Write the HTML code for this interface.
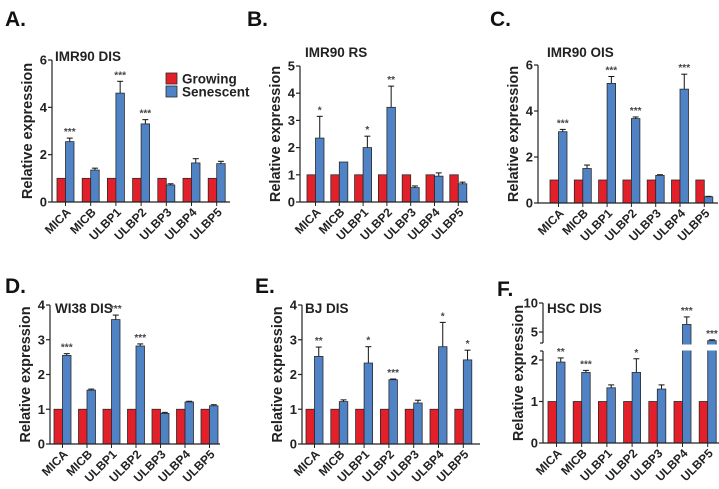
<!DOCTYPE html>
<html><head><meta charset="utf-8"><style>
html,body{margin:0;padding:0;background:#fff;}
svg{display:block;font-family:"Liberation Sans",Arial,sans-serif;}
</style></head><body>
<svg id="fig" width="719" height="489" viewBox="0 0 719 489" xmlns="http://www.w3.org/2000/svg"></svg>
<script>
const categories = ["MICA","MICB","ULBP1","ULBP2","ULBP3","ULBP4","ULBP5"];
const growingValues = [1,1,1,1,1,1,1];
const aValues = [2.55,1.35,4.6,3.3,0.72,1.65,1.62];
const aErrors = [0.15,0.08,0.5,0.18,0.05,0.18,0.1];
const aSig = ["***","","***","***","","",""];
const bValues = [2.35,1.47,2.0,3.48,0.53,0.95,0.67];
const bErrors = [0.8,0,0.42,0.78,0.06,0.12,0.06];
const bSig = ["*","","*","**","","",""];
const cValues = [3.1,1.5,5.2,3.67,1.2,4.95,0.27];
const cErrors = [0.1,0.15,0.3,0.07,0.03,0.65,0.02];
const cSig = ["***","","***","***","","***",""];
const dValues = [2.55,1.55,3.58,2.82,0.88,1.21,1.1];
const dErrors = [0.05,0.03,0.13,0.06,0.03,0.02,0.03];
const dSig = ["***","","***","***","","",""];
const eValues = [2.52,1.22,2.33,1.85,1.18,2.8,2.42];
const eErrors = [0.27,0.05,0.47,0.02,0.08,0.7,0.28];
const eSig = ["**","","*","***","","*","*"];
const fValues = [1.95,1.7,1.33,1.7,1.3,6.3,3.5];
const fErrors = [0.1,0.05,0.07,0.33,0.1,1.3,0.15];
const fSig = ["**","***","","*","","***","***"];
const ticks6 = [0,2,4,6];
const ticks5 = [0,1,2,3,4,5];
const ticks4 = [0,1,2,3,4];
const fLowTicks = [0,1,2];
const fHighTicks = [5,10];

const NS = "http://www.w3.org/2000/svg";
const svg = document.getElementById("fig");
function mk(tag, attrs, parent, text){
  const e = document.createElementNS(NS, tag);
  for (const k in attrs) e.setAttribute(k, attrs[k]);
  if (text !== undefined) e.textContent = text;
  (parent || svg).appendChild(e);
  return e;
}
const RED="#e3202a", BLUE="#4f83c6", EDGE="#2a2a2a";

function panel(p){
  const g = mk("g", {});
  
  
  const y = p.yScale;
  const L = mk("text", {x:p.lx, y:p.ly, "font-size":21, "font-weight":"bold", fill:"#111"}, g, p.letter);
  
  
  const T = mk("text", {x:p.tx, y:p.ty, "font-size":13.5, "font-weight":"bold", fill:"#222"}, g, p.title);
  
  
  const yc = (p.y0 + p.ytopPx)/2;
  const YT = mk("text", {x:p.ax-20, y:yc, "font-size":14.5, "font-weight":"bold", fill:"#222", "text-anchor":"middle", transform:`rotate(-90 ${p.ax-20} ${yc})`}, g, "Relative expression");
  
  
  const w = 8.5;
  const xs = i => p.x0 + i*p.pitch;
  const stars = [];
  categories.forEach((c,i)=>{
    const rx = xs(i);
    const r = mk("rect",{x:rx, y:y(growingValues[i]), width:w, height:p.y0-y(growingValues[i]), fill:RED, stroke:EDGE, "stroke-width":0.8}, g);
    
    
    const v = p.values[i], e = p.errors[i];
    const bx = rx + w;
    if (e > 0) {
      const et = y(v+e);
      mk("line",{x1:bx+w/2,x2:bx+w/2,y1:y(v),y2:et,stroke:"#111","stroke-width":1},g);
      mk("line",{x1:bx+w/2-3,x2:bx+w/2+3,y1:et,y2:et,stroke:"#111","stroke-width":1},g);
    }
    const b = mk("rect",{x:bx, y:y(v), width:w, height:p.y0-y(v), fill:BLUE, stroke:EDGE, "stroke-width":0.8}, g);
    
    
    if (p.sig[i]) stars.push([bx+w/2, y(v+e)-3, p.sig[i]]);
    const cx = rx + w;
    mk("line",{x1:cx,x2:cx,y1:p.y0,y2:p.y0+4,stroke:"#222","stroke-width":1},g);
    const lx = cx + 6, ly = p.y0 + 11;
    const t = mk("text",{x:lx, y:ly, "font-size":12, "font-weight":"bold", fill:"#222", "text-anchor":"end", transform:`rotate(-45 ${lx} ${ly})`}, g, c);
    
    
  });
  if (p.broken) {
    mk("rect",{x:p.ax+1, y:344.5, width:p.xend-p.ax, height:6, fill:"#fff"}, g);
  }
  stars.forEach(s=>{
    const st = mk("text",{x:s[0], y:s[1], "font-size":10, "font-weight":"bold", fill:"#444", "text-anchor":"middle"}, g, s[2]);
    
    
  });
  if (p.broken) {
    mk("line",{x1:p.ax,x2:p.ax,y1:p.y0,y2:351,stroke:"#222","stroke-width":1.2},g);
    mk("line",{x1:p.ax-3,x2:p.ax,y1:351,y2:351,stroke:"#222","stroke-width":1.2},g);
    mk("line",{x1:p.ax,x2:p.ax,y1:343,y2:p.ytopPx,stroke:"#222","stroke-width":1.2},g);
    mk("line",{x1:p.ax-3,x2:p.ax,y1:343,y2:343,stroke:"#222","stroke-width":1.2},g);
  } else {
    mk("line",{x1:p.ax,x2:p.ax,y1:p.y0,y2:p.ytopPx,stroke:"#222","stroke-width":1.2},g);
  }
  mk("line",{x1:p.ax,x2:p.xend,y1:p.y0,y2:p.y0,stroke:"#222","stroke-width":1.2},g);
  p.ticks.forEach(t=>{
    const ty = y(t);
    mk("line",{x1:p.ax-4,x2:p.ax,y1:ty,y2:ty,stroke:"#222","stroke-width":1.2},g);
    const tl = mk("text",{x:p.ax-5, y:ty+4.5, "font-size":13, "font-weight":"bold", fill:"#222", "text-anchor":"end"}, g, String(t));
    
    
  });
}

function lin(y0, ytopPx, max){ return v => y0 - v*(y0-ytopPx)/max; }

panel({id:"a",letter:"A.",lx:5,ly:26,title:"IMR90 DIS",tx:55,ty:61,ax:52,y0:202,ytopPx:60,yScale:lin(202,60,6),ticks:ticks6,x0:57,pitch:25.2,xend:230,values:aValues,errors:aErrors,sig:aSig});
panel({id:"b",letter:"B.",lx:247,ly:26,title:"IMR90 RS",tx:305,ty:57,ax:300,y0:202,ytopPx:66,yScale:lin(202,66,5),ticks:ticks5,x0:307,pitch:23.8,xend:468,values:bValues,errors:bErrors,sig:bSig});
panel({id:"c",letter:"C.",lx:490,ly:26,title:"IMR90 OIS",tx:547,ty:57,ax:538,y0:203,ytopPx:65,yScale:lin(203,65,6),ticks:ticks6,x0:550,pitch:24.3,xend:718,values:cValues,errors:cErrors,sig:cSig});
panel({id:"d",letter:"D.",lx:5,ly:293,title:"WI38 DIS",tx:55,ty:313,ax:50,y0:444,ytopPx:305,yScale:lin(444,305,4),ticks:ticks4,x0:54,pitch:24.5,xend:220,values:dValues,errors:dErrors,sig:dSig});
panel({id:"e",letter:"E.",lx:255,ly:293,title:"BJ DIS",tx:305,ty:313,ax:302,y0:444,ytopPx:305,yScale:lin(444,305,4),ticks:ticks4,x0:306,pitch:24.8,xend:480,values:eValues,errors:eErrors,sig:eSig});
const fScale = v => v <= 2.3 ? 443 - v*41.5 : 332 - (v-5)*5.8;
panel({id:"f",letter:"F.",lx:497,ly:296,title:"HSC DIS",tx:547,ty:313,ax:543,y0:443,ytopPx:303,yScale:fScale,ticks:fLowTicks.concat(fHighTicks),x0:548,pitch:25.2,xend:719,values:fValues,errors:fErrors,sig:fSig,broken:true});

const lg = mk("g",{});


mk("rect",{x:166,y:73,width:11,height:11,fill:RED,stroke:EDGE,"stroke-width":0.8},lg);
mk("text",{x:182,y:83.5,"font-size":13.5,"font-weight":"bold",fill:"#222"},lg,"Growing");
mk("rect",{x:166,y:86,width:11,height:11,fill:BLUE,stroke:EDGE,"stroke-width":0.8},lg);
mk("text",{x:182,y:96.5,"font-size":13.5,"font-weight":"bold",fill:"#222"},lg,"Senescent");
</script>
</body></html>
